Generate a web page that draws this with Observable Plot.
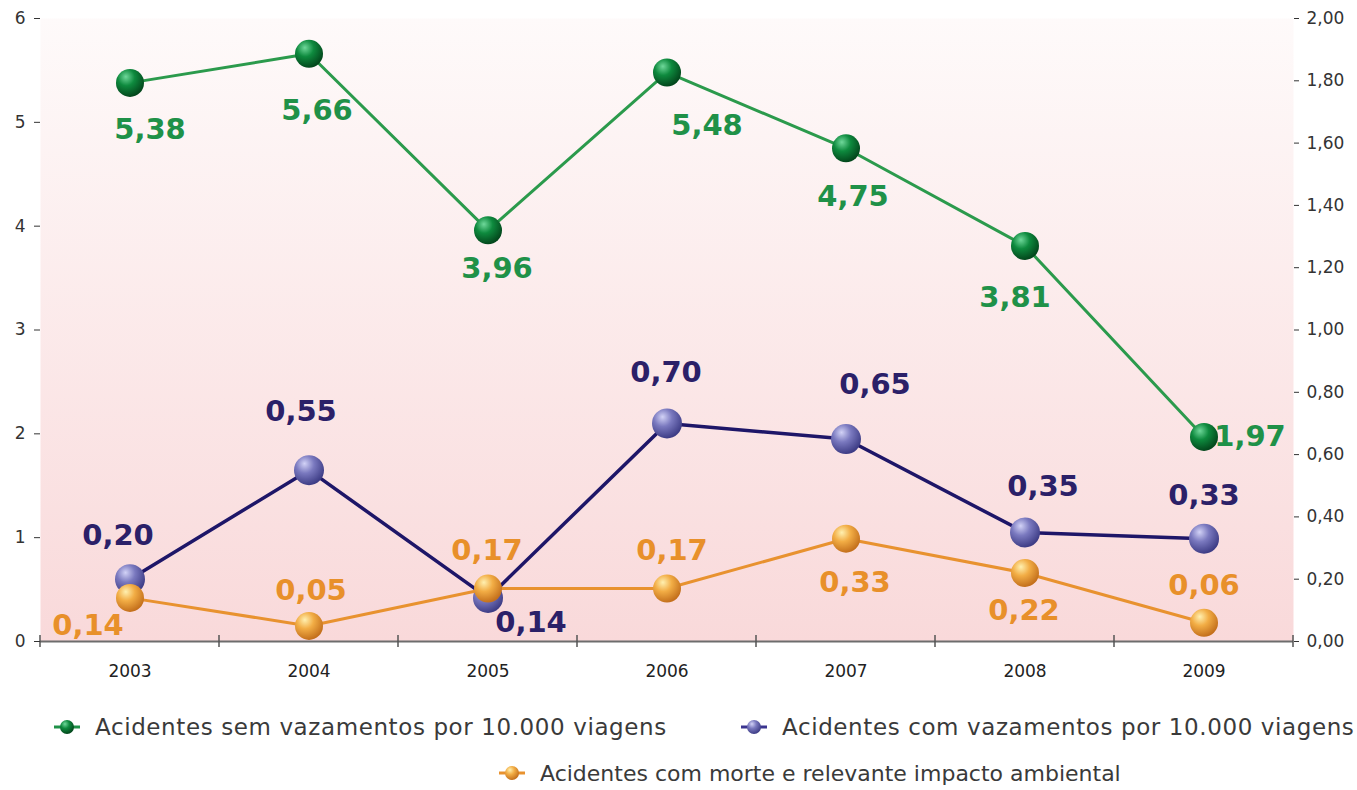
<!DOCTYPE html>
<html><head><meta charset="utf-8">
<script src="https://cdn.jsdelivr.net/npm/d3@7"></script>
<script src="https://cdn.jsdelivr.net/npm/@observablehq/plot@0.6"></script>
<style>
body{margin:0;background:#fff;font-family:"DejaVu Sans",sans-serif;}
#wrap{position:relative;width:1357px;height:790px;overflow:hidden;}
.leg{position:absolute;display:flex;align-items:center;font-size:23px;color:#3a3a3a;letter-spacing:0.6px;white-space:nowrap;height:30px;}
.leg svg{margin-right:14px;}
</style></head><body>
<div id="wrap"><div id="chart"></div><div id="legend"></div></div>
<script>
// ---- data ----
const years = [2003, 2004, 2005, 2006, 2007, 2008, 2009];
const semVazamentos = [5.38, 5.66, 3.96, 5.48, 4.75, 3.81, 1.97];   // left axis
const comVazamentos = [0.20, 0.55, 0.14, 0.70, 0.65, 0.35, 0.33];   // right axis
const comMorte      = [0.14, 0.05, 0.17, 0.17, 0.33, 0.22, 0.06];   // right axis
const leftTicks  = [0, 1, 2, 3, 4, 5, 6];
const rightTicks = [0, 0.2, 0.4, 0.6, 0.8, 1.0, 1.2, 1.4, 1.6, 1.8, 2.0];
const seriesNames = [
  "Acidentes sem vazamentos por 10.000 viagens",
  "Acidentes com vazamentos por 10.000 viagens",
  "Acidentes com morte e relevante impacto ambiental"
];

// ---- layout / style (label offsets in px) ----
const greenDx = [20, 8, 9, 40, 7, -10, 46], greenDy = [47, 57, 38, 53, 48, 52, 0];
const blueDx  = [-12, -8, 43, -1, 29, 18, 0], blueDy = [-43, -58, 25, -51, -54, -46, -43];
const orangeDx = [-42, 2, -1, 5, 9, -1, 0], orangeDy = [28, -35, -38, -38, 44, 38, -37];

const RATIO = leftTicks[leftTicks.length-1] / rightTicks[rightTicks.length-1]; // 3
const locale = d3.formatLocale({decimal: ",", thousands: ".", grouping: [3], currency: ["R$", ""]});
const f2 = locale.format(".2f");

const bounds = d3.range(years.length + 1).map(i => years[0] - 0.5 + i);

const rows = (vals, k) => years.map((year, i) => ({year, v: vals[i] * k, raw: vals[i]}));
const gRows = rows(semVazamentos, 1), bRows = rows(comVazamentos, RATIO), oRows = rows(comMorte, RATIO);

const defsMark = () => {
  const g = d3.create("svg:g");
  const defs = g.append("defs");
  const bg = defs.append("linearGradient").attr("id", "bgGrad").attr("x1", 0).attr("y1", 0).attr("x2", 0).attr("y2", 1);
  bg.append("stop").attr("offset", "0%").attr("stop-color", "#fefafa");
  bg.append("stop").attr("offset", "100%").attr("stop-color", "#f9d9da");
  const sph = (id, hi, base, dark) => {
    const r = defs.append("radialGradient").attr("id", id).attr("cx", "38%").attr("cy", "32%").attr("r", "68%").attr("fx", "35%").attr("fy", "28%");
    r.append("stop").attr("offset", "0%").attr("stop-color", hi);
    r.append("stop").attr("offset", "45%").attr("stop-color", base);
    r.append("stop").attr("offset", "100%").attr("stop-color", dark);
  };
  sph("sphGreen", "#6fd89a", "#0e8a3e", "#03471c");
  sph("sphBlue", "#d2d2f6", "#7a79bf", "#3e3d86");
  sph("sphOrange", "#fff0b0", "#f2ad45", "#c4701c");
  return g.node();
};

const boundTicks = (index, {x, y}) => {
  const g = d3.create("svg:g").attr("stroke", "#555").attr("stroke-width", 1.5);
  for (const b of bounds) g.append("line").attr("x1", x(b)).attr("x2", x(b)).attr("y1", y(0) - 6).attr("y2", y(0) + 6);
  return g.node();
};

const labels = (R, dxs, dys, color) => R.map((d, i) => Plot.text([d], {
  x: "year", y: "v", text: r => f2(r.raw), dx: dxs[i], dy: dys[i],
  fill: color, fontSize: 29, fontWeight: "bold", fontFamily: "DejaVu Sans"
}));

const chart = Plot.plot({
  width: 1357, height: 690,
  marginLeft: 40, marginRight: 64, marginTop: 18, marginBottom: 49,
  style: {fontFamily: "DejaVu Sans", fontSize: "17px", color: "#333", background: "transparent"},
  x: {domain: [bounds[0], bounds[bounds.length - 1]]},
  y: {domain: [0, leftTicks[leftTicks.length - 1]]},
  marks: [
    defsMark,
    Plot.frame({fill: "url(#bgGrad)", stroke: null}),
    Plot.ruleY([0], {stroke: "#6d6d6d", strokeWidth: 2}),
    boundTicks,
    Plot.axisX(years, {tickSize: 0, tickPadding: 23, tickFormat: d => String(d), fontSize: 17, fill: "#222", label: null}),
    Plot.axisY(leftTicks, {anchor: "left", tickSize: 6, tickPadding: 9, fontSize: 17, color: "#333", tickFormat: d => String(d), label: null}),
    Plot.axisY(rightTicks.map(t => t * RATIO), {anchor: "right", tickSize: 5, tickPadding: 8, fontSize: 17, color: "#333", tickFormat: d => f2(d / RATIO), label: null}),
    Plot.line(gRows, {x: "year", y: "v", stroke: "#2b9a4c", strokeWidth: 3}),
    Plot.line(bRows, {x: "year", y: "v", stroke: "#1e1668", strokeWidth: 3.5}),
    Plot.dot(bRows, {x: "year", y: "v", r: 15, fill: "url(#sphBlue)"}),
    Plot.line(oRows, {x: "year", y: "v", stroke: "#e8922f", strokeWidth: 3}),
    Plot.dot(oRows, {x: "year", y: "v", r: 14, fill: "url(#sphOrange)"}),
    Plot.dot(gRows, {x: "year", y: "v", r: 14, fill: "url(#sphGreen)"}),
    ...labels(gRows, greenDx, greenDy, "#1f9148"),
    ...labels(bRows, blueDx, blueDy, "#2b2068"),
    ...labels(oRows, orangeDx, orangeDy, "#e8902a")
  ]
});
document.getElementById("chart").append(chart);

// ---- legend ----
const legendItems = [
  {name: seriesNames[0], line: "#1f9148", sph: "sphGreen", left: 53, top: 712, fs: 23, ls: 0.6},
  {name: seriesNames[1], line: "#3b3590", sph: "sphBlue", left: 740, top: 712, fs: 23, ls: 0.6},
  {name: seriesNames[2], line: "#e8922f", sph: "sphOrange", left: 498, top: 758, fs: 22, ls: 0}
];
const leg = document.getElementById("legend");
for (const it of legendItems) {
  const div = document.createElement("div");
  div.className = "leg";
  div.style.left = it.left + "px";
  div.style.top = it.top + "px";
  div.style.fontSize = it.fs + "px";
  div.style.letterSpacing = it.ls + "px";
  div.innerHTML = `<svg width="28" height="20"><line x1="1" x2="27" y1="10" y2="10" stroke="${it.line}" stroke-width="3"/><circle cx="14" cy="10" r="7" fill="url(#${it.sph})"/></svg><span>${it.name}</span>`;
  leg.append(div);
}
</script>
</body></html>
